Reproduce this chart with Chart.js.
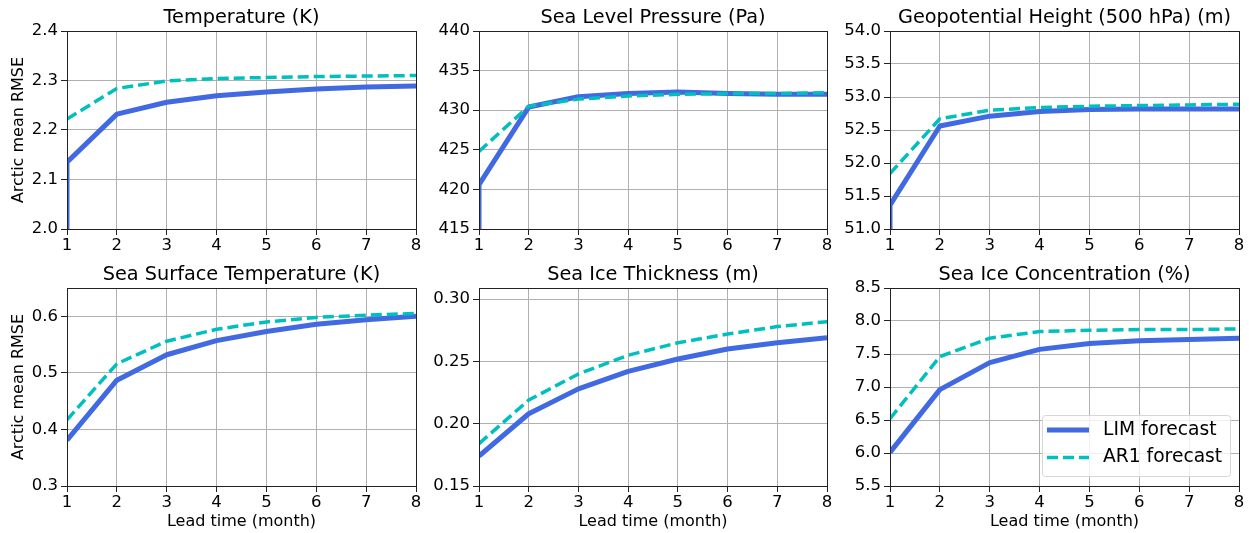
<!DOCTYPE html>
<html>
<head>
<meta charset="utf-8">
<script src="https://cdn.jsdelivr.net/npm/chart.js@4.4.0/dist/chart.umd.min.js"></script>
<style>
  html, body { margin: 0; padding: 0; background: #fff; }
  #wrap { position: relative; width: 1249px; height: 533px; overflow: hidden; }
  #wrap canvas { position: absolute; }
</style>
</head>
<body>
<div id="wrap"></div>
<script>
// lead time in months
const leads = [1, 2, 3, 4, 5, 6, 7, 8];

const titles = [
  'Temperature (K)',
  'Sea Level Pressure (Pa)',
  'Geopotential Height (500 hPa) (m)',
  'Sea Surface Temperature (K)',
  'Sea Ice Thickness (m)',
  'Sea Ice Concentration (%)'
];

// Arctic mean RMSE, LIM and AR1 forecasts
const tempLim = [2.135, 2.232, 2.256, 2.269, 2.277, 2.283, 2.287, 2.289];
const tempAr1 = [2.222, 2.284, 2.299, 2.304, 2.306, 2.308, 2.309, 2.310];
const slpLim = [420.6, 430.4, 431.7, 432.1, 432.3, 432.1, 432.0, 432.0];
const slpAr1 = [424.8, 430.5, 431.4, 431.8, 432.0, 432.1, 432.1, 432.2];
const gphLim = [51.36, 52.56, 52.71, 52.78, 52.81, 52.82, 52.82, 52.82];
const gphAr1 = [51.84, 52.67, 52.80, 52.84, 52.86, 52.87, 52.88, 52.89];
const sstLim = [0.381, 0.487, 0.532, 0.557, 0.573, 0.586, 0.594, 0.600];
const sstAr1 = [0.417, 0.516, 0.556, 0.577, 0.590, 0.598, 0.602, 0.605];
const sitLim = [0.174, 0.208, 0.228, 0.242, 0.252, 0.260, 0.265, 0.269];
const sitAr1 = [0.184, 0.219, 0.240, 0.255, 0.265, 0.272, 0.278, 0.282];
const sicLim = [6.01, 6.96, 7.37, 7.57, 7.66, 7.70, 7.72, 7.74];
const sicAr1 = [6.52, 7.46, 7.74, 7.84, 7.86, 7.87, 7.87, 7.88];

const limSeries = [tempLim, slpLim, gphLim, sstLim, sitLim, sicLim];
const ar1Series = [tempAr1, slpAr1, gphAr1, sstAr1, sitAr1, sicAr1];
// the atmospheric LIM curves rise from the bottom of the axis at lead 1
const limStart = [2.0, 415, 51.0, null, null, null];

// y axis ranges
const yMin = [2.0, 415, 51.0, 0.3, 0.15, 5.5];
const yMax = [2.4, 440, 54.0, 0.65, 0.309, 8.5];
const yStep = [0.1, 5, 0.5, 0.1, 0.05, 0.5];
const yDecimals = [1, 0, 1, 1, 2, 1];

Chart.defaults.font.family = "'DejaVu Sans', sans-serif";
Chart.defaults.color = '#000';
Chart.defaults.animation = false;

// plot areas of the 2x3 grid
const cols = [{ left: 67, right: 416 }, { left: 479, right: 827 }, { left: 890, right: 1239 }];
const rows = [{ top: 31, bottom: 229 }, { top: 288, bottom: 486 }];

const framePlugin = {
  id: 'frame',
  afterDatasetsDraw(chart) {
    const { ctx, chartArea: a } = chart;
    ctx.save();
    ctx.strokeStyle = '#222';
    ctx.lineWidth = 1;
    ctx.strokeRect(a.left + 0.5, a.top + 0.5, a.right - a.left, a.bottom - a.top);
    ctx.restore();
  }
};

const boxLegend = {
  id: 'boxLegend',
  afterDraw(chart) {
    const { ctx, chartArea: a } = chart;
    const w = 188, h = 61;
    const x0 = a.right - 9 - w, y0 = a.bottom - 10 - h;
    ctx.save();
    ctx.beginPath();
    ctx.roundRect(x0 + 0.5, y0 + 0.5, w, h, 3);
    ctx.fillStyle = 'rgba(255,255,255,0.8)';
    ctx.fill();
    ctx.strokeStyle = '#d6d6d6';
    ctx.lineWidth = 1;
    ctx.stroke();
    chart.data.datasets.forEach((ds, i) => {
      const y = y0 + 15 + i * 27.5;
      ctx.beginPath();
      ctx.strokeStyle = ds.borderColor;
      ctx.lineWidth = ds.borderWidth;
      ctx.setLineDash(ds.borderDash || []);
      ctx.moveTo(x0 + 5, y);
      ctx.lineTo(x0 + 47, y);
      ctx.stroke();
      ctx.setLineDash([]);
      ctx.fillStyle = '#000';
      ctx.font = "18.7px 'DejaVu Sans'";
      ctx.textBaseline = 'middle';
      ctx.fillText(ds.label, x0 + 61, y);
    });
    ctx.restore();
  }
};

const wrap = document.getElementById('wrap');

titles.forEach((title, i) => {
  const r = Math.floor(i / 3), c = i % 3;
  const canvasLeft = c === 0 ? 0 : cols[c].left - 62;
  const yW = cols[c].left - canvasLeft;
  const canvasTop = rows[r].top - 31;
  const canvasBottom = r === 0 ? rows[0].bottom + 26 : 533;
  const xH = canvasBottom - rows[r].bottom;
  const canvasW = cols[c].right + 10 - canvasLeft;
  const canvasH = canvasBottom - canvasTop;

  const canvas = document.createElement('canvas');
  canvas.width = canvasW;
  canvas.height = canvasH;
  canvas.style.left = canvasLeft + 'px';
  canvas.style.top = canvasTop + 'px';
  canvas.style.width = canvasW + 'px';
  canvas.style.height = canvasH + 'px';
  wrap.appendChild(canvas);

  const limPts = leads.map((x, k) => ({ x, y: limSeries[i][k] }));
  if (limStart[i] !== null) limPts.unshift({ x: 1, y: limStart[i] });
  const ar1Pts = leads.map((x, k) => ({ x, y: ar1Series[i][k] }));

  const gridOpts = { color: '#b0b0b0', lineWidth: 1, tickLength: 6, tickColor: '#222', tickWidth: 1 };

  new Chart(canvas, {
    type: 'line',
    data: {
      datasets: [{
        label: 'LIM forecast',
        data: limPts,
        borderColor: '#4169e1',
        borderWidth: 5,
        pointRadius: 0,
        tension: 0,
        clip: 0,
        borderJoinStyle: 'round',
        order: 2
      }, {
        label: 'AR1 forecast',
        data: ar1Pts,
        borderColor: '#00bfbf',
        borderWidth: 3.5,
        borderDash: [11, 5],
        pointRadius: 0,
        tension: 0,
        clip: 0,
        borderJoinStyle: 'round',
        order: 1
      }]
    },
    options: {
      responsive: false,
      devicePixelRatio: 1,
      layout: { padding: { left: 0, right: 10, top: 0, bottom: 0 } },
      plugins: {
        legend: { display: false },
        tooltip: { enabled: false },
        title: {
          display: true,
          text: title,
          fullSize: false,
          color: '#000',
          font: { size: 19.3, weight: 'normal', lineHeight: 1.2 },
          padding: { top: 6.2, bottom: 31 - 6.2 - 19.3 * 1.2 }
        }
      },
      scales: {
        x: {
          type: 'linear',
          min: 1,
          max: 8,
          afterFit: s => { s.height = xH; },
          ticks: { stepSize: 1, maxRotation: 0, padding: 1, font: { size: 16.5 }, color: '#000' },
          grid: gridOpts,
          border: { display: false },
          title: {
            display: r === 1,
            text: 'Lead time (month)',
            color: '#000',
            font: { size: 16 },
            padding: { top: 0, bottom: 1.7 }
          }
        },
        y: {
          type: 'linear',
          min: yMin[i],
          max: yMax[i],
          afterFit: s => { s.width = yW; },
          ticks: {
            stepSize: yStep[i],
            includeBounds: false,
            padding: 3,
            font: { size: 16.5 },
            color: '#000',
            callback: v => Number(v).toFixed(yDecimals[i])
          },
          grid: gridOpts,
          border: { display: false },
          title: {
            display: c === 0,
            text: 'Arctic mean RMSE',
            color: '#000',
            font: { size: 16 },
            padding: { top: 9.4, bottom: 0 }
          }
        }
      }
    },
    plugins: i === 5 ? [framePlugin, boxLegend] : [framePlugin]
  });
});
</script>
</body>
</html>
